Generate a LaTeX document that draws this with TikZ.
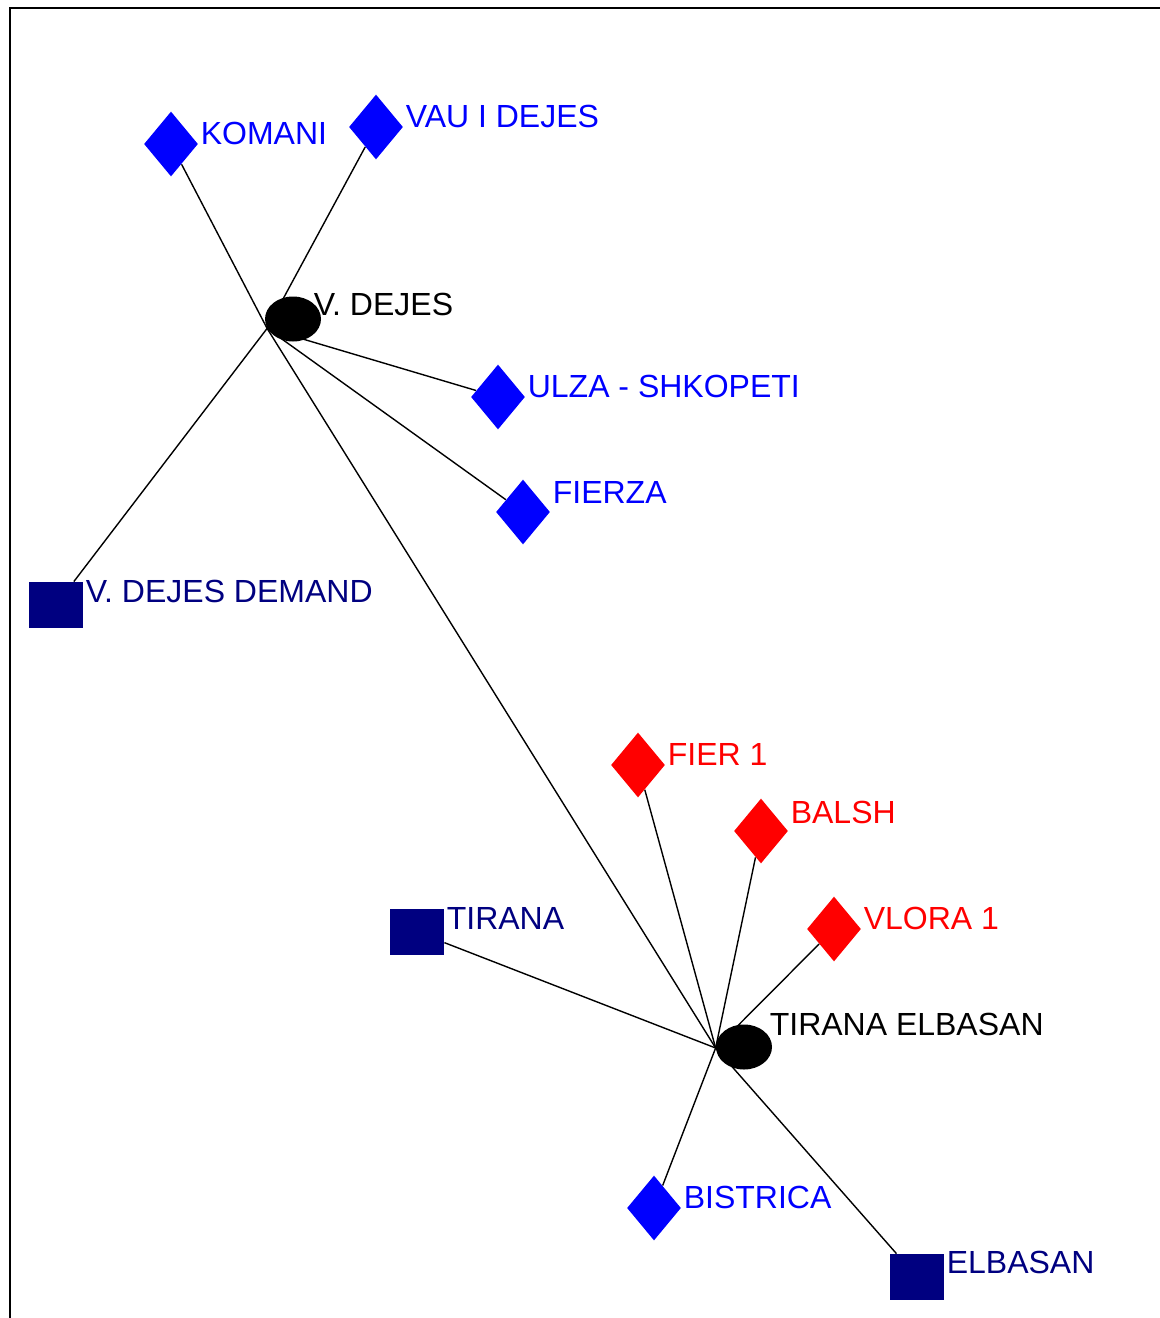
\documentclass[tikz,border=0pt]{standalone}
\usepackage{fontspec}
\setmainfont{Liberation Sans}
\usetikzlibrary{shapes.geometric}
\usetikzlibrary{backgrounds}

\definecolor{plantblue}{RGB}{0,0,255}
\definecolor{loadnavy}{RGB}{0,0,128}
\definecolor{plantred}{RGB}{255,0,0}

\tikzset{
  hub/.style={ellipse, fill=black, inner sep=0, minimum width=28pt, minimum height=22.5pt},
  plant/.style={diamond, fill=#1, inner sep=0, minimum width=27pt, minimum height=32.5pt},
  load/.style={rectangle, fill=loadnavy, inner sep=0, minimum width=27pt, minimum height=23pt},
  lbl/.style={anchor=base west, inner sep=1pt, font=\fontsize{16pt}{19pt}\selectfont},
  link/.style={black, line width=.7pt}
}

\begin{document}
\begin{tikzpicture} [x=.5pt, y=-.5pt]
\useasboundingbox (0,0) rectangle (1160,1318);
\draw[black, line width=1pt] (1160,8)--(10,8)--(10,1318);

% hubs
\node[hub, label={[lbl, xshift=-5pt, yshift=2pt]east:V. DEJES}] (vdejes) at (293,319) {};
\node[hub, label={[lbl, xshift=-2.5pt, yshift=6pt]east:TIRANA ELBASAN}] (tirel) at (744,1047) {};
\coordinate (vdhub) at (vdejes.200);
\coordinate (tehub) at (tirel.182);

% plants
\node[plant=plantblue, label={[lbl, text=plantblue]east:KOMANI}] (komani) at (171,144) {};
\node[plant=plantblue, label={[lbl, text=plantblue]east:VAU I DEJES}] (vau) at (376,127) {};
\node[plant=plantblue, label={[lbl, text=plantblue]east:ULZA - SHKOPETI}] (ulza) at (498,397) {};
\node[plant=plantblue, label={[lbl, text=plantblue, yshift=4.5pt]east:FIERZA}] (fierza) at (523,512) {};
\node[plant=plantred, label={[lbl, text=plantred]east:FIER 1}] (fier) at (638,765) {};
\node[plant=plantred, label={[lbl, text=plantred, yshift=4pt]east:BALSH}] (balsh) at (761,831) {};
\node[plant=plantred, label={[lbl, text=plantred]east:VLORA 1}] (vlora) at (834,929) {};
\node[plant=plantblue, label={[lbl, text=plantblue]east:BISTRICA}] (bistrica) at (654,1208) {};

% demand
\node[load, label={[lbl, text=loadnavy, yshift=1.5pt]east:V. DEJES DEMAND}] (vdemand) at (56,605) {};
\node[load, label={[lbl, text=loadnavy, yshift=1.5pt]east:TIRANA}] (tirana) at (417,932) {};
\node[load, label={[lbl, text=loadnavy, yshift=2pt]east:ELBASAN}] (elbasan) at (917,1277) {};

\begin{scope}[on background layer]
\foreach \n in {komani, vau, ulza, fierza, vdemand, tehub}
 \draw[link] (vdhub) -- (\n);
\foreach \n in {fier, balsh, vlora, tirana, bistrica, elbasan}
 \draw[link] (tehub) -- (\n);
\end{scope}
\end{tikzpicture}
\end{document}
